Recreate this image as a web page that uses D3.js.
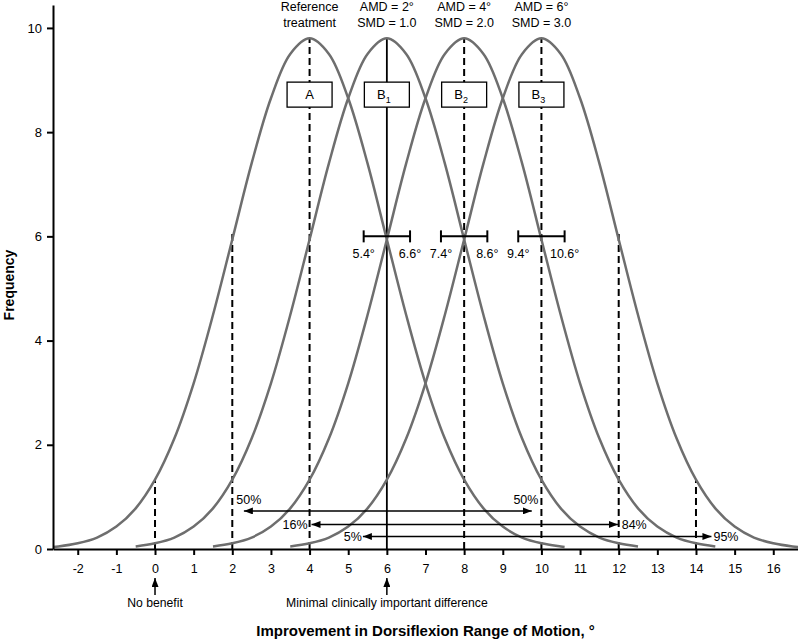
<!DOCTYPE html>
<html>
<head>
<meta charset="utf-8">
<script src="https://cdn.jsdelivr.net/npm/d3@7"></script>
<style>
  body { margin: 0; background: #fff; }
  svg { display: block; font-family: "Liberation Sans", Arial, sans-serif; }
  .axis path, .axis line { stroke: #000; stroke-width: 2; }
  .axis text { fill: #000; }
</style>
</head>
<body>
<div id="chart"></div>
<script>
const profileOffset = [-7, -6.5, -6, -5.5, -5, -4.5, -4, -3.5, -3, -2.5, -2, -1.5, -1, -0.5, 0,
                       0.5, 1, 1.5, 2, 2.5, 3, 3.5, 4, 4.5, 5, 5.5, 6, 6.5, 7];
const profileHeight = [0.02, 0.05, 0.11, 0.22, 0.43, 0.78, 1.33, 2.12, 3.18, 4.49, 5.94, 7.40, 8.65, 9.50, 9.80,
                       9.50, 8.65, 7.40, 5.94, 4.49, 3.18, 2.12, 1.33, 0.78, 0.43, 0.22, 0.11, 0.05, 0.02];

// Curves: A (reference), B1, B2, B3
const curveCentre = [4, 6, 8, 10];
const curveFrom = [-7, -6.5, -6.5, -6.5];
const curveTo = [6.6, 6.5, 6.5, 7];

const topLine1 = ["Reference", "AMD = 2°", "AMD = 4°", "AMD = 6°"];
const topLine2 = ["treatment", "SMD = 1.0", "SMD = 2.0", "SMD = 3.0"];
const boxMain = ["A", "B", "B", "B"];
const boxSub = ["", "1", "2", "3"];

// vertical reference lines
const refX = [0, 2, 4, 6, 8, 10, 12, 14];
const refTop = [1.33, 6.05, 9.8, 9.8, 9.8, 9.8, 6.05, 1.33];
const refSolid = [false, false, false, true, false, false, false, false];

// intervals at Frequency = 6
const barY = 6;
const barLo = [5.4, 7.4, 9.4];
const barHi = [6.6, 8.6, 10.6];

// percentage arrows
const arrowY = [0.73, 0.47, 0.24];
const arrowFrom = [2.3, 4.05, 5.38];
const arrowTo = [9.75, 11.98, 14.4];
const arrowLeftLabel = ["50%", "16%", "5%"];
const arrowRightLabel = ["50%", "84%", "95%"];

const noteX = [0, 6];
const noteText = ["No benefit", "Minimal clinically important difference"];

const xTicks = d3.range(-2, 17);
const yTicks = [0, 2, 4, 6, 8, 10];

const W = 798, H = 640;
const svg = d3.select("#chart").append("svg").attr("width", W).attr("height", H);

const x = d3.scaleLinear().domain([-2.64, 16.64]).range([53, 798]);
const y = d3.scaleLinear().domain([0, 10.44]).range([549, 5]);

svg.append("defs").append("clipPath").attr("id", "plot")
  .append("rect").attr("x", 53).attr("y", 0).attr("width", W - 53).attr("height", 549);

const defs = svg.select("defs");
defs.append("marker")
  .attr("id", "head")
  .attr("viewBox", "0 0 9 7")
  .attr("refX", 9).attr("refY", 3.5)
  .attr("markerWidth", 9).attr("markerHeight", 7)
  .attr("markerUnits", "userSpaceOnUse")
  .attr("orient", "auto-start-reverse")
  .append("path").attr("d", "M0,0L9,3.5L0,7Z").attr("fill", "#000");

// reference lines
refX.forEach((v, i) => {
  svg.append("line")
    .attr("x1", x(v)).attr("x2", x(v))
    .attr("y1", y(0)).attr("y2", y(refTop[i]))
    .attr("stroke", "#000")
    .attr("stroke-width", refSolid[i] ? 1.8 : 2)
    .attr("stroke-dasharray", refSolid[i] ? null : "7,4");
});

// curves
const line = d3.line().x(d => x(d[0])).y(d => y(d[1])).curve(d3.curveCatmullRom);
const curves = svg.append("g").attr("clip-path", "url(#plot)");
curveCentre.forEach((c, i) => {
  const pts = [];
  profileOffset.forEach((o, j) => {
    if (o >= curveFrom[i] && o <= curveTo[i]) pts.push([c + o, profileHeight[j]]);
  });
  if (profileOffset.indexOf(curveTo[i]) < 0) pts.push([c + curveTo[i], 0.04]);
  curves.append("path")
    .attr("d", line(pts))
    .attr("fill", "none")
    .attr("stroke", "#6e6e6e")
    .attr("stroke-width", 2.5);
});

// intervals
barLo.forEach((lo, i) => {
  const hi = barHi[i];
  const g = svg.append("g").attr("stroke", "#000").attr("stroke-width", 2);
  g.append("line").attr("x1", x(lo)).attr("x2", x(hi)).attr("y1", y(barY)).attr("y2", y(barY));
  [lo, hi].forEach(v => {
    g.append("line").attr("x1", x(v)).attr("x2", x(v))
      .attr("y1", y(barY) - 6).attr("y2", y(barY) + 6);
  });
  [lo, hi].forEach(v => {
    svg.append("text")
      .attr("x", x(v)).attr("y", y(barY) + 22)
      .attr("text-anchor", "middle")
      .attr("font-size", 12.5)
      .text(v.toFixed(1) + "°");
  });
});

// boxes
const boxW = 45, boxH = 25, boxY = 8.72;
curveCentre.forEach((c, i) => {
  svg.append("rect")
    .attr("x", x(c) - boxW / 2).attr("y", y(boxY) - boxH / 2)
    .attr("width", boxW).attr("height", boxH)
    .attr("fill", "#fff").attr("stroke", "#000").attr("stroke-width", 1.3);
  const t = svg.append("text")
    .attr("x", x(c) - (boxSub[i] ? 3 : 0)).attr("y", y(boxY) + 4.5)
    .attr("text-anchor", "middle")
    .attr("font-size", 13);
  t.append("tspan").text(boxMain[i]);
  if (boxSub[i]) t.append("tspan").attr("font-size", 9).attr("dy", 4).text(boxSub[i]);
});

// labels above
curveCentre.forEach((c, i) => {
  svg.append("text").attr("x", x(c)).attr("y", 11)
    .attr("text-anchor", "middle").attr("font-size", 12.5).text(topLine1[i]);
  svg.append("text").attr("x", x(c)).attr("y", 26.5)
    .attr("text-anchor", "middle").attr("font-size", 12.5).text(topLine2[i]);
});

// percentage arrows
arrowY.forEach((v, i) => {
  svg.append("line")
    .attr("x1", x(arrowFrom[i])).attr("x2", x(arrowTo[i]))
    .attr("y1", y(v)).attr("y2", y(v))
    .attr("stroke", "#000").attr("stroke-width", 1.5)
    .attr("marker-start", "url(#head)").attr("marker-end", "url(#head)");
});
// 50% labels sit above their arrow, next to the dashed lines
svg.append("text").attr("x", x(2) + 4).attr("y", y(arrowY[0]) - 6.5)
  .attr("font-size", 12.5).text(arrowLeftLabel[0]);
svg.append("text").attr("x", x(10) - 3).attr("y", y(arrowY[0]) - 6.5)
  .attr("text-anchor", "end").attr("font-size", 12.5).text(arrowRightLabel[0]);
// 16% / 84%
svg.append("text").attr("x", x(4) - 2).attr("y", y(arrowY[1]) + 4.5)
  .attr("text-anchor", "end").attr("font-size", 12.5).text(arrowLeftLabel[1]);
svg.append("text").attr("x", x(12) + 3).attr("y", y(arrowY[1]) + 4.5)
  .attr("font-size", 12.5).text(arrowRightLabel[1]);
// 5% / 95%
svg.append("text").attr("x", x(arrowFrom[2]) - 1).attr("y", y(arrowY[2]) + 4.5)
  .attr("text-anchor", "end").attr("font-size", 12.5).text(arrowLeftLabel[2]);
svg.append("text").attr("x", x(arrowTo[2]) + 2).attr("y", y(arrowY[2]) + 4.5)
  .attr("font-size", 12.5).text(arrowRightLabel[2]);

// axes
const xAxis = svg.append("g").attr("class", "axis")
  .attr("transform", `translate(0,${y(0)})`)
  .call(d3.axisBottom(x).tickValues(xTicks).tickFormat(d => String(d))
    .tickSize(6).tickSizeOuter(0).tickPadding(9.5));
xAxis.selectAll("text").attr("font-size", 12.5);

const yAxis = svg.append("g").attr("class", "axis")
  .attr("transform", `translate(${x.range()[0]},0)`)
  .call(d3.axisLeft(y).tickValues(yTicks).tickFormat(d => String(d))
    .tickSize(6).tickSizeOuter(0).tickPadding(5));
yAxis.selectAll("text").attr("font-size", 13);
svg.selectAll(".axis").attr("font-family", null);

// notes under the axis
noteX.forEach((v, i) => {
  svg.append("line")
    .attr("x1", x(v)).attr("x2", x(v))
    .attr("y1", 595).attr("y2", 578)
    .attr("stroke", "#000").attr("stroke-width", 1.5)
    .attr("marker-end", "url(#head)");
  svg.append("text").attr("x", x(v)).attr("y", 606.5)
    .attr("text-anchor", "middle").attr("font-size", 12.2).text(noteText[i]);
});

// axis titles
svg.append("text")
  .attr("x", (x.range()[0] + x.range()[1]) / 2).attr("y", 636)
  .attr("text-anchor", "middle").attr("font-size", 15).attr("font-weight", "bold")
  .text("Improvement in Dorsiflexion Range of Motion, °");

svg.append("text")
  .attr("transform", "translate(13.5,285) rotate(-90)")
  .attr("text-anchor", "middle").attr("font-size", 14).attr("font-weight", "bold")
  .text("Frequency");
</script>
</body>
</html>
